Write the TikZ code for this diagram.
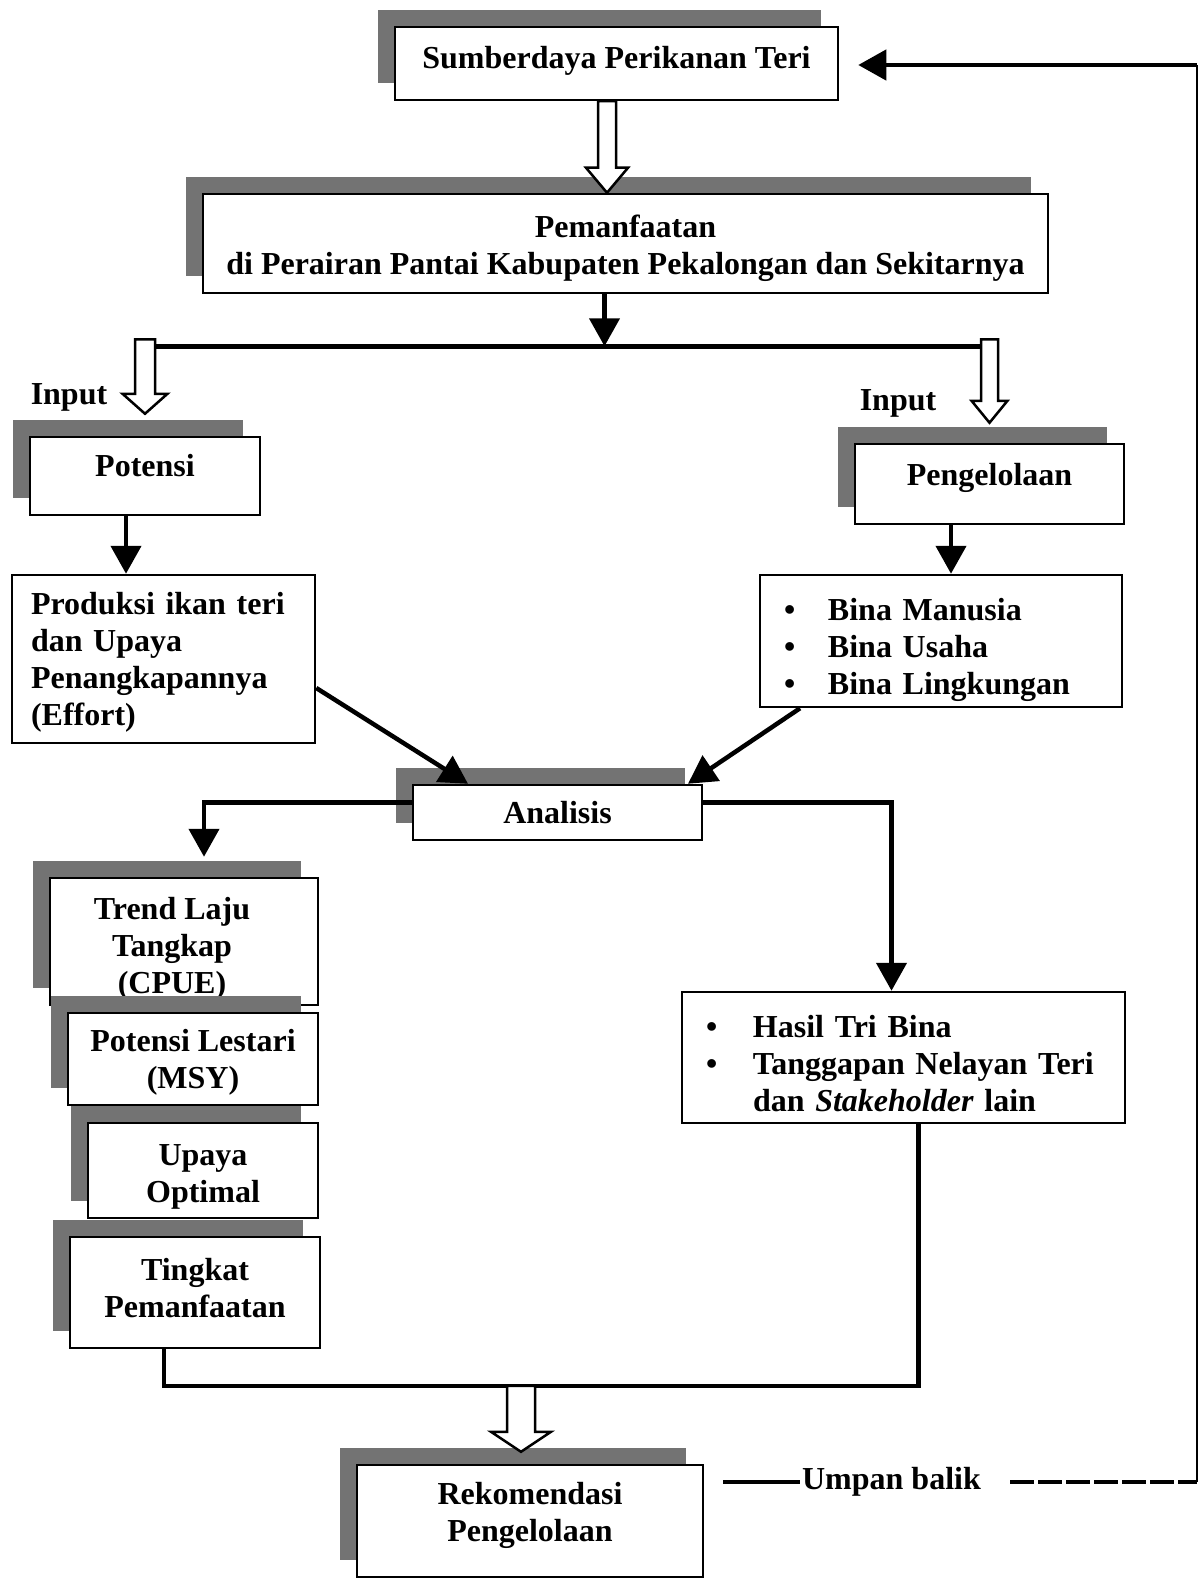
\documentclass[tikz,border=0pt]{standalone}
\usepackage{fontspec}
\setmainfont{Liberation Serif}
\usetikzlibrary{calc,positioning,arrows.meta,shadows}

% open (white) arrow pointing down: start, tip, shaft half width, head half width, head length
\newcommand{\hollowdown}[5]{%
  \draw[hollow] let \p1=#1, \p2=#2 in
    (\x1-#3pt,\y1) -- (\x1-#3pt,\y2+#5pt) -- (\x1-#4pt,\y2+#5pt) -- (\x1,\y2)
    -- (\x1+#4pt,\y2+#5pt) -- (\x1+#3pt,\y2+#5pt) -- (\x1+#3pt,\y1) -- cycle;}
% invisible struts to nudge text inside a box
\newcommand{\padtop}[1]{\rule{0pt}{#1}}
\newcommand{\padbot}[1]{\rule[-#1]{0pt}{#1}}
\newcommand{\padright}[1]{\rule{#1}{0pt}}

\begin{document}
\begin{tikzpicture}[x=1pt, y=-1pt,
  every node/.style={font=\fontsize{32}{37}\selectfont\bfseries},
  box/.style={draw, line width=2.5pt, fill=white, inner sep=0pt},
  sbox/.style={box, drop shadow={shadow xshift=-17pt, shadow yshift=17pt, fill=black!55, opacity=1}},
  link/.style={line width=4.5pt},
  arr/.style={link, -{Triangle[length=28pt,width=30pt]}},
  hollow/.style={line width=2.5pt, fill=white, line join=miter}]
  \useasboundingbox (0,0) rectangle (1200,1578);

  % Top: resource and its use
  \node[sbox, minimum width=443pt, minimum height=73pt] (sumber) at (616.5,63.5) {Sumberdaya Perikanan Teri\padbot{13pt}};
  \node[sbox, minimum width=845pt, minimum height=99pt, align=center] (manfaat) at (625.5,243.5)
    {\padtop{32pt}Pemanfaatan\\di Perairan Pantai Kabupaten Pekalongan dan Sekitarnya};

  % Two inputs
  \node (inL) at (69,397) {Input};
  \node (inR) at (898,403) {Input};
  \node[sbox, minimum width=230pt, minimum height=78pt] (potensi) at (145,476) {Potensi\padbot{22pt}};
  \node[sbox, minimum width=269pt, minimum height=80pt] (pengel) at (989.5,484) {Pengelolaan\padbot{19pt}};

  \node[box, minimum width=303pt, minimum height=168pt, text width=265pt, align=left] (produksi) at (163.5,659)
    {\padtop{28pt}Produksi ikan teri\\dan Upaya\\Penangkapannya\\(Effort)};
  \node[box, minimum width=362pt, minimum height=132pt, text width=314pt, align=left] (bina) at (941,641)
    {\padtop{40pt}\makebox[44pt][l]{\textbullet}Bina Manusia\\
     \makebox[44pt][l]{\textbullet}Bina Usaha\\
     \makebox[44pt][l]{\textbullet}Bina Lingkungan};

  % Analysis
  \node[sbox, minimum width=289pt, minimum height=55pt] (analisis) at (557.5,812.5) {Analisis};

  % Left column of results
  \node[sbox, minimum width=268pt, minimum height=127pt, align=center] (trend) at (184,941.5)
    {\padtop{36pt}Trend Laju\padright{24pt}\\Tangkap\padright{24pt}\\(CPUE)\padright{24pt}};
  \node[sbox, minimum width=250pt, minimum height=92pt, align=center] (lestari) at (193,1059) {\padtop{28pt}Potensi Lestari\\(MSY)};
  \node[sbox, minimum width=230pt, minimum height=95pt, align=center] (upaya) at (203,1170.5) {\padtop{34pt}Upaya\\Optimal};
  \node[sbox, minimum width=250pt, minimum height=111pt, align=center] (tingkat) at (195,1292.5) {Tingkat\\Pemanfaatan\padbot{10pt}};

  % Right column of results
  \node[box, minimum width=443pt, minimum height=131pt, text width=395pt, align=left] (hasil) at (903.5,1057.5)
    {\padtop{34pt}\makebox[47pt][l]{\textbullet}Hasil Tri Bina\\
     \makebox[47pt][l]{\textbullet}Tanggapan Nelayan Teri\\
     \hspace*{47pt}dan \textit{Stakeholder} lain};

  % Recommendation and feedback
  \node[sbox, minimum width=346pt, minimum height=112pt, align=center] (rekom) at (530,1521) {Rekomendasi\\Pengelolaan\padbot{19pt}};
  \node[inner sep=2pt] (umpan) at (891.5,1482) {Umpan balik};

  \coordinate (fork) at ($(manfaat.south)+(-21,52)$);
  \coordinate (merge) at ($(rekom.north)+(-9,-78)$);
  \coordinate (fbL) at ([xshift=19pt]rekom.east |- umpan);
  \coordinate (fbR) at (1197,1482);
  \coordinate (fbT) at (1197,65);

  % Connectors
  \hollowdown{([xshift=-9.5pt]sumber.south)}{([xshift=-9.5pt]sumber.south |- manfaat.north)}{9}{21}{25}
  \draw[link] (potensi.north |- fork) -- (pengel.north |- fork);
  \draw[arr] (manfaat.south -| fork) -- (fork);
  \hollowdown{([yshift=7pt]potensi.north |- fork)}{([yshift=22pt]potensi.north)}{10}{22.5}{20}
  \hollowdown{([yshift=7pt]pengel.north |- fork)}{([yshift=20pt]pengel.north)}{8.5}{18}{22}

  \draw[arr] ([xshift=-19pt]potensi.south) -- ([xshift=-19pt]potensi.south |- produksi.north);
  \draw[arr] ([xshift=-38.5pt]pengel.south) -- ([xshift=-38.5pt]pengel.south |- bina.north);
  \draw[arr] ([yshift=-29pt]produksi.east) -- ([xshift=-89.5pt]analisis.north);
  \draw[arr] ([xshift=-141pt]bina.south) -- ([xshift=130.5pt]analisis.north);

  \draw[arr] ([yshift=10pt]analisis.west) -| ([xshift=20pt,yshift=20pt]trend.north);
  \draw[arr] ([yshift=10pt]analisis.east) -| ([xshift=-12pt]hasil.north);

  \draw[link] ([xshift=-31pt]tingkat.south) |- (merge) -| ([xshift=15pt]hasil.south);
  \hollowdown{(merge)}{([yshift=12pt]rekom.north -| merge)}{14}{30}{20}

  % Feedback loop
  \draw[link, line width=4pt] (fbL) -- (umpan.west);
  \draw[link, line width=4pt, dash pattern=on 24pt off 4pt] ([xshift=27pt]umpan.east) -- (fbR);
  \draw[line width=1.5pt] (fbR) -- (fbT);
  \draw[arr] (fbT) -- ([xshift=19pt]sumber.east |- fbT);
\end{tikzpicture}
\end{document}
